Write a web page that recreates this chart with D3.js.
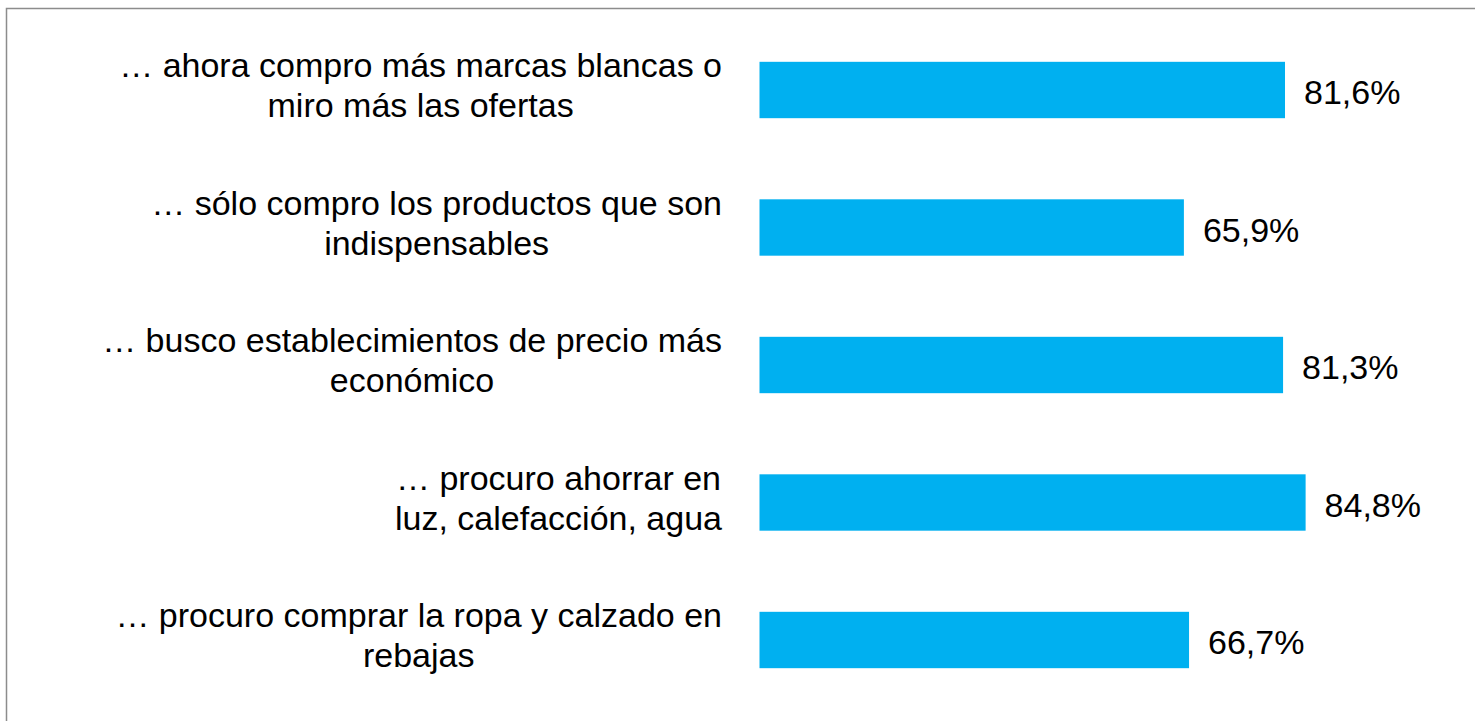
<!DOCTYPE html>
<html>
<head>
<meta charset="utf-8">
<script src="https://cdn.jsdelivr.net/npm/d3@7"></script>
<style>
  html, body { margin: 0; padding: 0; background: #fff; }
  svg text { font-family: "Liberation Sans", Arial, sans-serif; fill: #000; }
</style>
</head>
<body>
<div id="chart"></div>
<script>
// categorías (cada una en sus líneas)
const categories = [
    ['… ahora compro más marcas blancas o', 'miro más las ofertas'],
    ['… sólo compro los productos que son', 'indispensables'],
    ['… busco establecimientos de precio más', 'económico'],
    ['… procuro ahorrar en', 'luz, calefacción, agua'],
    ['… procuro comprar la ropa y calzado en', 'rebajas']
];
const values = [81.6, 65.9, 81.3, 84.8, 66.7];

const width = 1475;
const height = 721;
const fontSize = 34;

const svg = d3.select('#chart').append('svg')
    .attr('width', width)
    .attr('height', height);

// marco
svg.append('rect')
    .attr('x', 6.5)
    .attr('y', 8.5)
    .attr('width', width + 10)
    .attr('height', height + 10)
    .attr('fill', 'none')
    .attr('stroke', '#8c8c8c')
    .attr('stroke-width', 1.5);

const y = d3.scaleBand()
    .domain(d3.range(categories.length))
    .range([21.25, 708.75])
    .paddingInner(0.59)
    .paddingOuter(0.295);

const x = d3.scaleLinear()
    .domain([0, 100])
    .range([759.5, 759.5 + 644]);

// barras
svg.selectAll('.bar')
    .data(values)
    .enter()
    .append('rect')
    .attr('class', 'bar')
    .attr('x', x(0))
    .attr('y', (d, i) => y(i))
    .attr('width', d => x(d) - x(0))
    .attr('height', y.bandwidth())
    .attr('fill', '#00B0F0');

// etiquetas de valor
svg.selectAll('.value')
    .data(values)
    .enter()
    .append('text')
    .attr('class', 'value')
    .attr('x', d => x(d) + 19)
    .attr('y', (d, i) => y(i) + y.bandwidth() / 2 + 14)
    .style('font-size', fontSize + 'px')
    .text(d => d3.format('.1f')(d).replace('.', ',') + '%');

// etiquetas de categoría: líneas centradas, bloque alineado a la derecha
const labelRight = 722;
const lineGap = 40;
categories.forEach((lines, i) => {
    const cy = y(i) + y.bandwidth() / 2;
    const t = svg.append('text')
        .attr('class', 'cat-label')
        .attr('text-anchor', 'middle')
        .style('font-size', fontSize + 'px');
    const spans = lines.map((line, j) => t.append('tspan')
        .attr('y', cy + (j - (lines.length - 1) / 2) * lineGap + 7)
        .text(line));
    const maxW = d3.max(spans, s => s.node().getComputedTextLength());
    spans.forEach(s => s.attr('x', labelRight - maxW / 2));
});
</script>
</body>
</html>
